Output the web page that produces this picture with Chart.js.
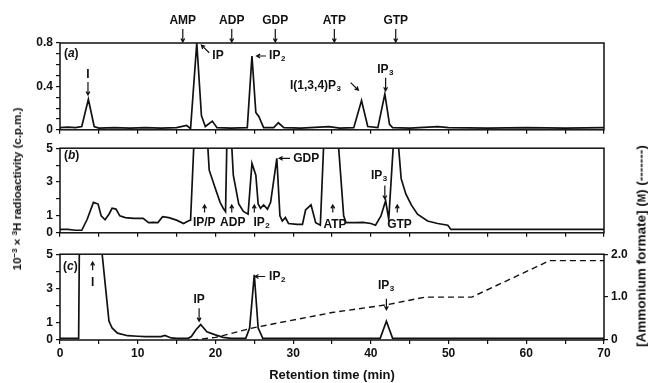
<!DOCTYPE html>
<html>
<head>
<meta charset="utf-8">
<script src="https://cdn.jsdelivr.net/npm/chart.js@4"></script>
<style>
  body { margin: 0; background: #fff; }
  #wrap { position: relative; width: 648px; height: 383px; overflow: hidden; font-family: "Liberation Sans", Arial, sans-serif; color: #111; }
  canvas { position: absolute; left: 0; }
  .ytitle { position: absolute; white-space: nowrap; font-weight: bold; transform: translate(-50%, -50%) rotate(-90deg); }
  .ytitle sup { font-size: 8px; vertical-align: 4px; line-height: 0; }
</style>
</head>
<body>
<div id="wrap">
  <canvas id="panelA" width="648" height="140" style="top:0"></canvas>
  <canvas id="panelB" width="648" height="105" style="top:138px"></canvas>
  <canvas id="panelC" width="648" height="139" style="top:244px"></canvas>
  <div class="ytitle" style="left:17px;top:189px;font-size:11.5px">10<sup>−3</sup> × <sup>3</sup>H radioactivity (c.p.m.)</div>
  <div class="ytitle" style="left:641px;top:246px;font-size:13.5px">[Ammonium formate] (<span style="font-size:10px">M</span>) (-------)</div>
</div>
<script>
// --- data (time in min) ---
const aTime = [0, 1, 2, 2.8, 3.65, 4.4, 5, 7, 9, 11,
  13, 15, 16.3, 16.8, 17.6, 18.2, 18.7, 19.6, 20.2, 22,
  24.1, 24.7, 25.2, 25.6, 26.2, 27.5, 28.1, 28.8, 31, 34.6,
  36, 37.8, 38.8, 39.6, 40.9, 41.8, 42.4, 42.8, 45, 48.6,
  50, 55, 60, 65, 70];
const aCounts = [0.02, 0.025, 0.02, 0.03, 0.28, 0.03, 0.015, 0.02, 0.015, 0.02,
  0.015, 0.02, 0.04, 0.01, 0.8, 0.13, 0.03, 0.08, 0.02, 0.015,
  0.02, 0.68, 0.16, 0.12, 0.02, 0.02, 0.065, 0.02, 0.015, 0.03,
  0.015, 0.02, 0.27, 0.03, 0.02, 0.33, 0.05, 0.02, 0.015, 0.03,
  0.02, 0.015, 0.02, 0.015, 0.02];

const bTime = [0, 1, 2, 2.8, 3.5, 4.3, 4.9, 5.3, 5.8, 6.3,
  6.7, 7.2, 7.7, 8.4, 9.5, 10.7, 11.4, 12, 12.6, 13.2,
  14, 15, 15.9, 16.5, 16.8, 17.3, 18.9, 19.2, 20, 20.6,
  21, 21.3, 21.5, 22, 22.3, 23, 23.6, 24.2, 24.7, 25.2,
  25.5, 25.8, 26.2, 26.7, 27.1, 27.9, 28.3, 28.6, 29, 29.4,
  30.5, 31.2, 31.6, 32.3, 32.9, 33.5, 34, 35.7, 36.5, 36.8,
  38, 39, 40, 40.6, 41.3, 41.9, 42.3, 43, 43.4, 43.9,
  44.5, 45.2, 46, 47.3, 48.6, 49.9, 50.3, 55, 60, 65,
  70];
const bCounts = [0.2, 0.2, 0.15, 0.15, 0.8, 1.8, 1.7, 1.0, 0.77, 1.1,
  1.45, 1.4, 1.0, 0.9, 0.85, 0.85, 0.6, 0.62, 0.6, 0.95,
  0.9, 0.75, 0.55, 0.7, 0.75, 6, 6, 3.7, 2.6, 1.8,
  1.45, 1.25, 6, 6, 3.4, 1.7, 1.26, 1.1, 4.1, 3.4,
  1.7, 1.45, 1.65, 1.4, 1.8, 4.4, 1.0, 0.7, 0.9, 0.55,
  0.5, 0.5, 1.35, 1.65, 0.6, 0.45, 6, 6, 1.0, 0.6,
  0.6, 0.62, 0.55, 0.45, 1.0, 1.9, 0.8, 6, 6, 3.2,
  2.3, 1.65, 1.1, 0.7, 0.55, 0.45, 0.2, 0.2, 0.2, 0.2,
  0.2];

const cTime = [0, 2.4, 2.5, 5.2, 6.3, 6.7, 7.4, 8.7, 10, 11,
  12, 13, 13.5, 14.3, 15, 16.5, 16.9, 17.5, 18.1, 18.9,
  20, 21, 22, 23.9, 24.4, 25, 25.5, 26.1, 30, 35,
  40, 41.2, 42, 42.8, 50, 60, 70];
const cCounts = [0.1, 0.1, 6, 6, 1.1, 0.7, 0.4, 0.25, 0.22, 0.2,
  0.2, 0.2, 0.27, 0.12, 0.1, 0.1, 0.2, 0.6, 0.9, 0.48,
  0.3, 0.15, 0.1, 0.1, 0.7, 3.8, 0.7, 0.1, 0.1, 0.1,
  0.1, 0.1, 1.1, 0.1, 0.1, 0.1, 0.1];

const gradTime = [17, 20, 25, 35, 42, 47, 53, 63, 70];
const gradConc = [0, 0.06, 0.29, 0.64, 0.82, 1.0, 1.0, 1.85, 1.85];

const xTickLabels = [0, 10, 20, 30, 40, 50, 60, 70];
const aTickLabels = [0, 0.4, 0.8];
const bcTickLabels = [0, 1, 3, 5];
const concTickLabels = [0, 1, 2];

const markerNames = ['AMP', 'ADP', 'GDP', 'ATP', 'GTP'];
const markerTimes = [15.8, 22.1, 27.7, 35.3, 43.2];

// annotations: text placed at (t, v) in each panel's own units
const aLabels = [
  { text: '(a)', t: 0.5, v: 0.7, align: 'left' },
  { text: 'I', t: 3.6, v: 0.51, align: 'center' },
  { text: 'IP', t: 19.6, v: 0.68, align: 'left' },
  { text: 'IP_2', t: 26.9, v: 0.68, align: 'left' },
  { text: 'I(1,3,4)P_3', t: 29.6, v: 0.41, align: 'left' },
  { text: 'IP_3', t: 41.9, v: 0.55, align: 'center' }
];
const aArrows = [[3.6, 0.44, 3.6, 0.32], [19.2, 0.71, 18.2, 0.78], [26.5, 0.68, 25.3, 0.68],
  [37.4, 0.435, 38.4, 0.365], [41.9, 0.48, 41.9, 0.36]];

const bLabels = [
  { text: '(b)', t: 0.5, v: 4.56, align: 'left' },
  { text: 'IP/P', t: 17.1, v: 0.6, align: 'left' },
  { text: 'ADP', t: 20.6, v: 0.6, align: 'left' },
  { text: 'IP_2', t: 24.9, v: 0.6, align: 'left' },
  { text: 'GDP', t: 30.0, v: 4.4, align: 'left' },
  { text: 'ATP', t: 33.9, v: 0.5, align: 'left' },
  { text: 'IP_3', t: 41.1, v: 3.37, align: 'center' },
  { text: 'GTP', t: 42.1, v: 0.5, align: 'left' }
];
const bArrows = [[18.6, 1.2, 18.6, 1.65], [22.1, 1.2, 22.1, 1.65], [25.0, 1.2, 25.0, 1.65],
  [29.6, 4.4, 28.2, 4.4], [35.1, 1.2, 35.1, 1.65], [41.8, 2.8, 41.8, 2.0], [43.4, 1.2, 43.4, 1.65]];

const cLabels = [
  { text: '(c)', t: 0.4, v: 4.3, align: 'left' },
  { text: 'I', t: 4.2, v: 3.33, align: 'center' },
  { text: 'IP', t: 17.9, v: 2.33, align: 'center' },
  { text: 'IP_2', t: 26.9, v: 3.7, align: 'left' },
  { text: 'IP_3', t: 42.0, v: 3.15, align: 'center' }
];
const cArrows = [[4.2, 4.07, 4.2, 4.55], [17.9, 1.85, 17.9, 1.1], [26.4, 3.7, 25.1, 3.7], [42.0, 2.4, 42.0, 1.76]];

// --- drawing helpers ---
const INK = '#111';
const FONT = '"Liberation Sans", Arial, sans-serif';

function pts(xs, ys) {
  return xs.map((x, i) => ({ x: x, y: ys[i] }));
}

function drawArrow(ctx, x1, y1, x2, y2) {
  const ang = Math.atan2(y2 - y1, x2 - x1);
  ctx.beginPath();
  ctx.moveTo(x1, y1);
  ctx.lineTo(x2, y2);
  ctx.moveTo(x2 - 4 * Math.cos(ang - 0.5), y2 - 4 * Math.sin(ang - 0.5));
  ctx.lineTo(x2, y2);
  ctx.lineTo(x2 - 4 * Math.cos(ang + 0.5), y2 - 4 * Math.sin(ang + 0.5));
  ctx.stroke();
}

// "_3" -> subscript 3; "(a)" -> italic letter
function drawLabel(ctx, text, x, y, align) {
  const parts = [];
  const tag = /^\((\w)\)$/.exec(text);
  if (tag) {
    parts.push({ s: '(', f: 'bold 12px ' + FONT, dy: 0 });
    parts.push({ s: tag[1], f: 'italic bold 12px ' + FONT, dy: 0 });
    parts.push({ s: ')', f: 'bold 12px ' + FONT, dy: 0 });
  } else {
    text.split(/(_\d)/).filter(Boolean).forEach(p => {
      if (p[0] === '_') parts.push({ s: p.slice(1), f: 'bold 8px ' + FONT, dy: 3 });
      else parts.push({ s: p, f: 'bold 12px ' + FONT, dy: 0 });
    });
  }
  let w = 0;
  parts.forEach(p => { ctx.font = p.f; p.w = ctx.measureText(p.s).width + (p.dy ? 1 : 0); w += p.w; });
  let cx = align === 'center' ? x - w / 2 : x;
  ctx.textBaseline = 'middle';
  ctx.textAlign = 'left';
  parts.forEach(p => {
    ctx.font = p.f;
    ctx.fillText(p.s, cx + (p.dy ? 0.5 : 0), y + p.dy);
    cx += p.w;
  });
}

const panelDecor = {
  id: 'panelDecor',
  afterDraw(chart, args, opts) {
    const { ctx, chartArea: ca, scales } = chart;
    const xs = scales.x, ys = scales.y;
    ctx.save();
    ctx.strokeStyle = INK;
    ctx.fillStyle = INK;
    ctx.lineWidth = 1.5;
    ctx.strokeRect(ca.left, ca.top, ca.right - ca.left, ca.bottom - ca.top);
    ctx.lineWidth = 1.2;
    (opts.labels || []).forEach(l =>
      drawLabel(ctx, l.text, xs.getPixelForValue(l.t), ys.getPixelForValue(l.v), l.align));
    (opts.arrows || []).forEach(a =>
      drawArrow(ctx, xs.getPixelForValue(a[0]), ys.getPixelForValue(a[1]),
        xs.getPixelForValue(a[2]), ys.getPixelForValue(a[3])));
    if (opts.markers) {
      markerNames.forEach((name, i) => {
        const px = xs.getPixelForValue(markerTimes[i]);
        drawLabel(ctx, name, px, ca.top - 22, 'center');
        drawArrow(ctx, px, ca.top - 14, px, ca.top - 1);
      });
    }
    ctx.restore();
  }
};

function xScale(showLabels, height) {
  return {
    type: 'linear', min: 0, max: 70, position: 'bottom',
    afterFit: s => { s.height = height; },
    border: { display: false },
    grid: { drawOnChartArea: false, drawTicks: true, tickLength: 4, color: INK, lineWidth: 1.2 },
    ticks: {
      stepSize: 5, autoSkip: false, maxRotation: 0, display: showLabels, color: INK, padding: 2,
      font: { family: FONT, size: 12, weight: 'bold' },
      callback: v => xTickLabels.includes(v) ? String(v) : ''
    },
    title: {
      display: showLabels, text: 'Retention time (min)', color: INK,
      font: { family: FONT, size: 13, weight: 'bold' }, padding: { top: 0, bottom: 0 }
    }
  };
}

function yScale(max, step, labels, fmt) {
  return {
    type: 'linear', min: 0, max: max, position: 'left',
    afterFit: s => { s.width = 60; },
    border: { display: false },
    grid: { drawOnChartArea: false, tickLength: 4, color: INK, lineWidth: 1.2 },
    ticks: {
      stepSize: step, autoSkip: false, color: INK, padding: 3,
      font: { family: FONT, size: 12, weight: 'bold' },
      callback: v => labels.some(l => Math.abs(l - v) < 1e-6) ? fmt(v) : ''
    }
  };
}

function trace(xs, ys) {
  return { data: pts(xs, ys), borderColor: INK, borderWidth: 1.7, pointRadius: 0, tension: 0 };
}

function makeChart(id, datasets, scales, padding, decor) {
  return new Chart(document.getElementById(id), {
    type: 'line',
    data: { datasets: datasets },
    options: {
      responsive: false, animation: false, devicePixelRatio: 1,
      layout: { padding: padding },
      plugins: { legend: { display: false }, tooltip: { enabled: false }, panelDecor: decor },
      scales: scales
    },
    plugins: [panelDecor]
  });
}

makeChart('panelA', [trace(aTime, aCounts)],
  { x: xScale(false, 5), y: yScale(0.8, 0.1, aTickLabels, v => v === 0 ? '0' : v.toFixed(1)) },
  { top: 43, right: 44, left: 0, bottom: 0 },
  { labels: aLabels, arrows: aArrows, markers: true });

makeChart('panelB', [trace(bTime, bCounts)],
  { x: xScale(false, 5), y: yScale(5, 1, bcTickLabels, v => String(v)) },
  { top: 9, right: 44, left: 0, bottom: 0 },
  { labels: bLabels, arrows: bArrows });

const gradient = {
  data: pts(gradTime, gradConc), yAxisID: 'y2', borderColor: INK, borderWidth: 1.4,
  borderDash: [6, 4], pointRadius: 0, tension: 0
};
makeChart('panelC', [trace(cTime, cCounts), gradient],
  {
    x: xScale(true, 43),
    y: yScale(5, 1, bcTickLabels, v => String(v)),
    y2: {
      type: 'linear', min: 0, max: 2, position: 'right',
      afterFit: s => { s.width = 44; },
      border: { display: false },
      grid: { drawOnChartArea: false, tickLength: 4, color: INK, lineWidth: 1.2 },
      ticks: {
        stepSize: 1, color: INK, padding: 3,
        font: { family: FONT, size: 12, weight: 'bold' },
        callback: v => concTickLabels.includes(v) ? (v === 0 ? '0' : v.toFixed(1)) : ''
      }
    }
  },
  { top: 6, right: 0, left: 0, bottom: 0 },
  { labels: cLabels, arrows: cArrows });
</script>
</body>
</html>
